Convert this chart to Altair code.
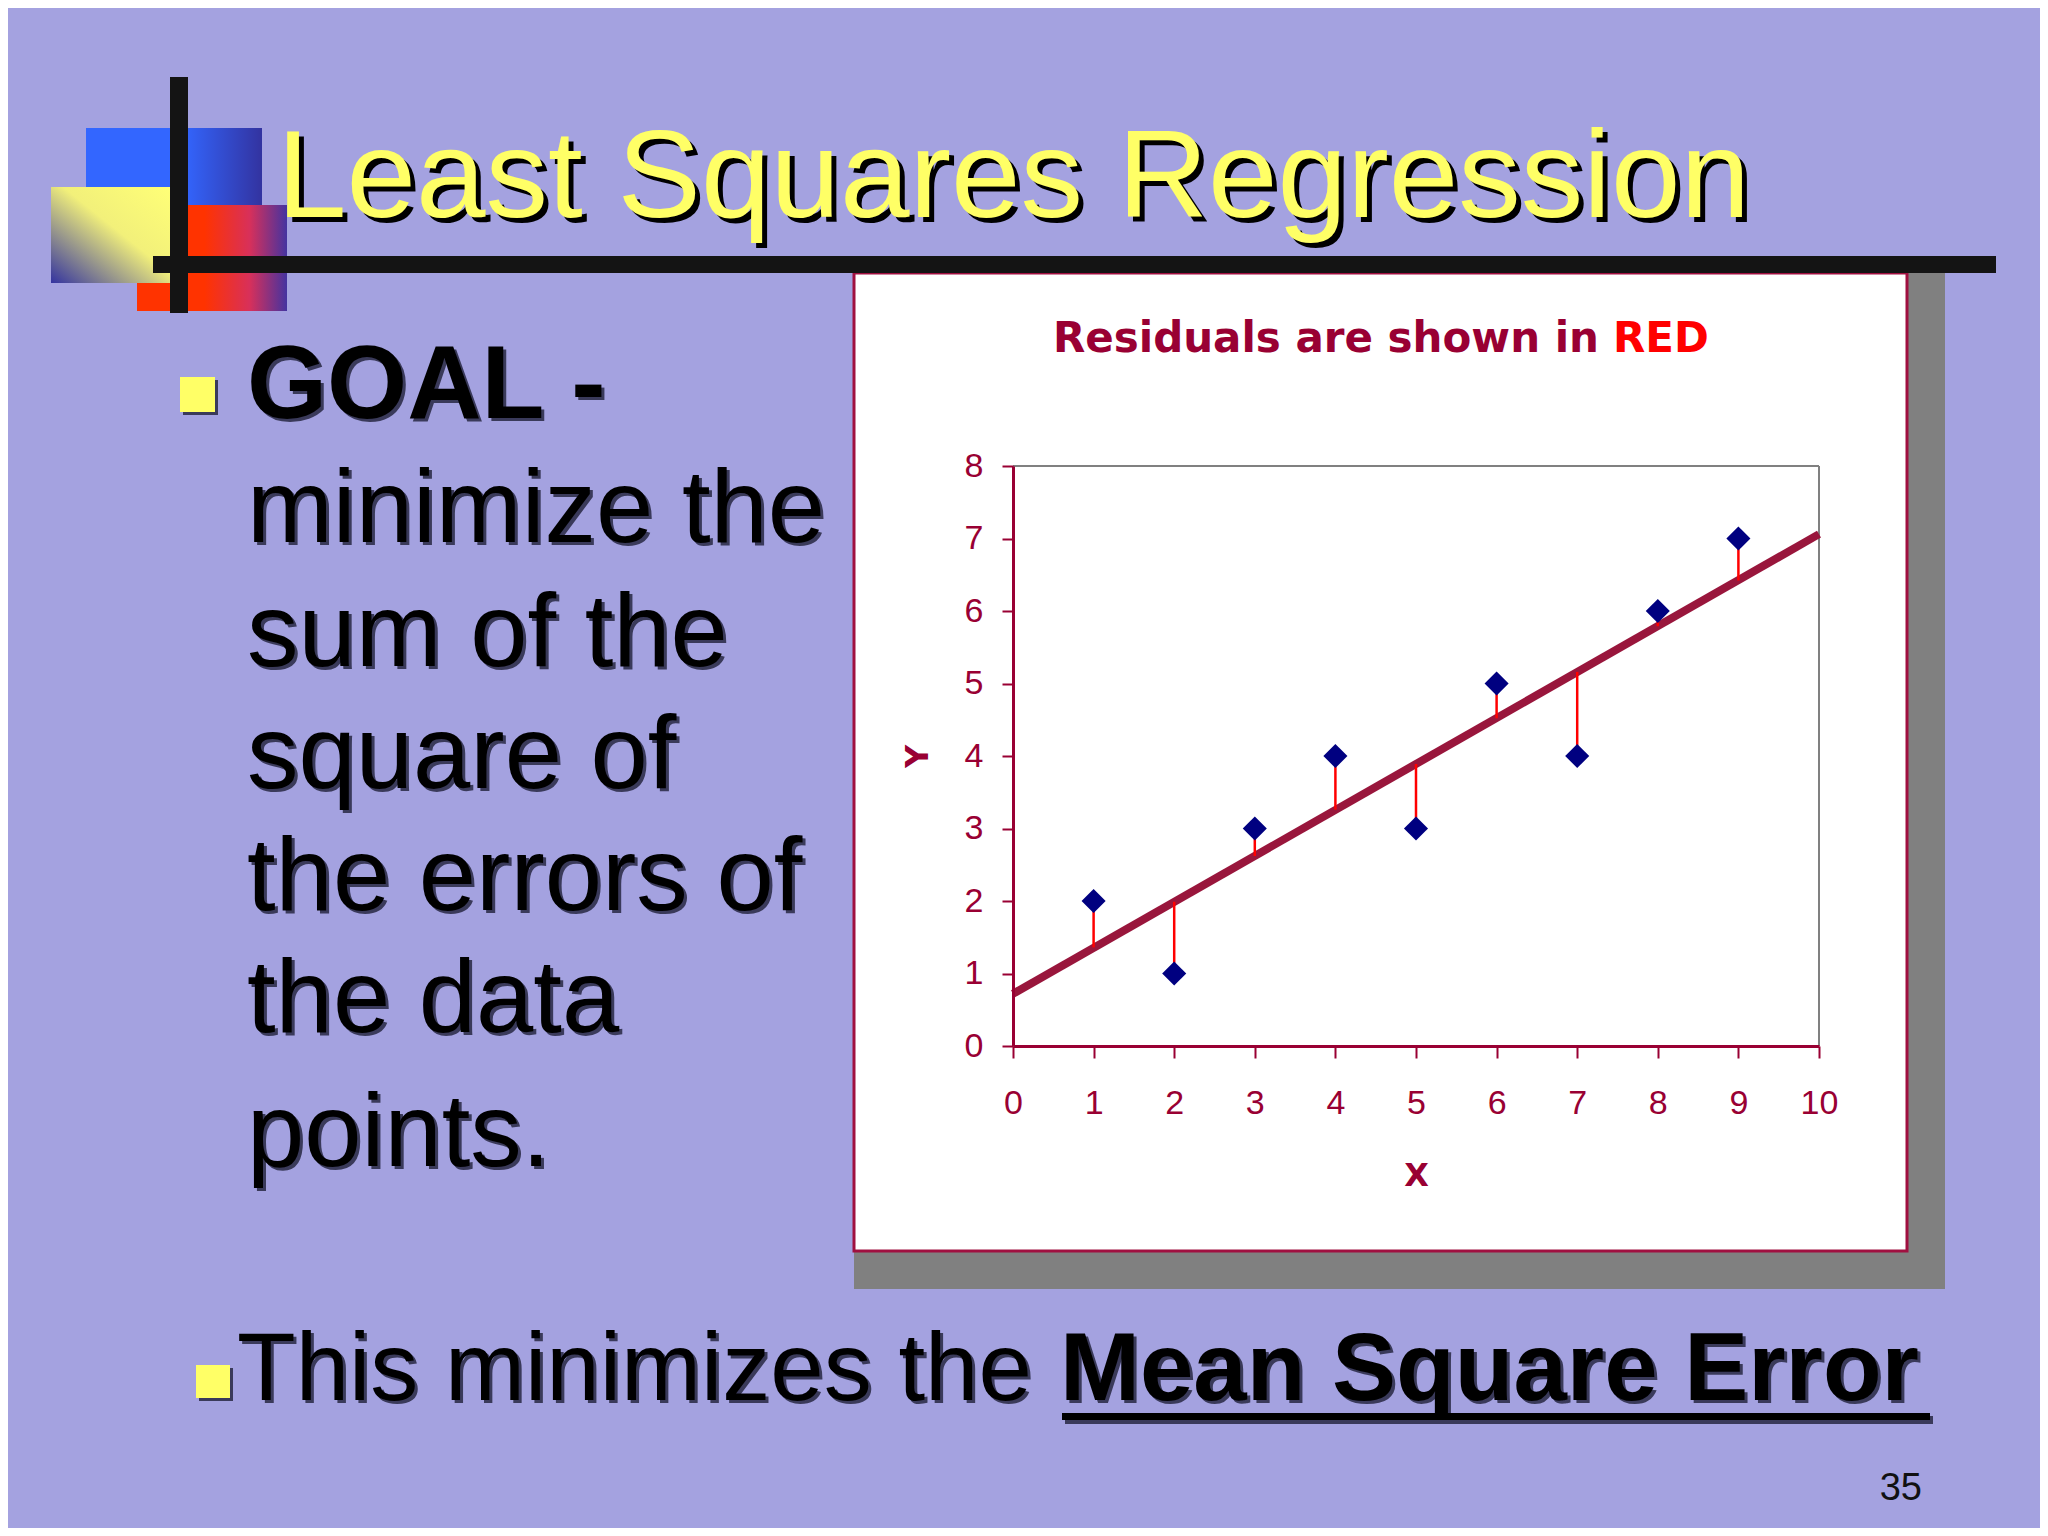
import altair as alt
import pandas as pd

# ---------------- data ----------------
x_vals = [1, 2, 3, 4, 5, 6, 7, 8, 9]
y_vals = [2, 1, 3, 4, 3, 5, 4, 6, 7]
fitted_vals = [1.36, 1.99, 2.62, 3.26, 3.89, 4.52, 5.16, 5.79, 6.42]
line_x = [0, 10]
line_y = [0.72, 7.06]
x_ticks = [0, 1, 2, 3, 4, 5, 6, 7, 8, 9, 10]
y_ticks = [0, 1, 2, 3, 4, 5, 6, 7, 8]

slide_title = "Least Squares Regression"
chart_title_a = "Residuals are shown in"
chart_title_b = "RED"
bullet_lines = ["GOAL -", "minimize the", "sum of the", "square of",
                "the errors of", "the data", "points."]
bottom_a = "This minimizes the"
bottom_b = "Mean Square Error"
page_no = "35"

pts = pd.DataFrame({"x": x_vals, "y": y_vals, "fit": fitted_vals})
line_df = pd.DataFrame({"x": line_x, "y": line_y})
one = alt.Data(values=[{"k": 0}])

# ---------------- geometry (slide pixel coords) ----------------
OX, OY = 1013, 466          # plot-area origin on slide
PW, PH = 806, 580           # plot-area size
TOTAL_W, TOTAL_H = 2032, 1520
BG = "#A4A2E0"
DARKRED = "#990033"

def R(x0, y0, x1, y1, **mk):
    return alt.Chart(one).mark_rect(**mk).encode(
        x=alt.value(x0 - OX), x2=alt.value(x1 - OX),
        y=alt.value(y0 - OY), y2=alt.value(y1 - OY))

def T(s, x, y, **mk):
    return alt.Chart(one).mark_text(text=s, baseline="alphabetic", **mk).encode(
        x=alt.value(x - OX), y=alt.value(y - OY))

def grad(stops, x1=0, y1=0, x2=1, y2=0):
    return alt.LinearGradient(
        gradient="linear", x1=x1, y1=y1, x2=x2, y2=y2,
        stops=[alt.GradientStop(color=c, offset=o) for o, c in stops])

layers = []
# chart frame + shadow
layers.append(R(854, 273, 1945, 1289, color="#808080"))
layers.append(R(854, 273, 1907, 1251, fill="white", stroke="#A01040", strokeWidth=3))

# logo
layers.append(R(86, 128, 262, 205, fill=grad([(0, "#3366FF"), (0.55, "#3366FF"), (1, "#3333A0")])))
layers.append(R(137, 205, 287, 311, fill=grad([(0, "#FF3300"), (0.45, "#FF3300"), (0.75, "#D8305A"), (1, "#4433A0")])))
layers.append(R(51, 187, 171, 283, fill=grad([(0, "#FFFF77"), (0.45, "#F2F07A"), (1, "#3333A0")], x1=1, y1=0, x2=0, y2=1)))
layers.append(R(170, 77, 188, 313, color="#141414"))
layers.append(R(153, 256, 1996, 273, color="#141414"))

# slide title with shadow
TF = "Liberation Sans, Arial, sans-serif"
layers.append(T(slide_title, 282, 222, font=TF, fontSize=125, color="#000000", align="left"))
layers.append(T(slide_title, 277, 217, font=TF, fontSize=125, color="#FFFF66", align="left"))

# left bullet block
baselines = [418, 542, 666, 788, 910, 1032, 1166]
layers.append(R(183, 380, 218, 415, color="#3A3A5A"))
layers.append(R(180, 377, 215, 412, color="#FFFF66"))
for i, (s, b) in enumerate(zip(bullet_lines, baselines)):
    w = "bold" if i == 0 else "normal"
    layers.append(T(s, 250, b + 3, font=TF, fontSize=103, fontWeight=w, color="#3A3A5A", align="left"))
    layers.append(T(s, 247, b, font=TF, fontSize=103, fontWeight=w, color="#000000", align="left"))

# bottom bullet line
layers.append(R(199, 1368, 233, 1401, color="#3A3A5A"))
layers.append(R(196, 1365, 230, 1398, color="#FFFF66"))
layers.append(T(bottom_a, 240, 1403, font=TF, fontSize=96, color="#3A3A5A", align="left"))
layers.append(T(bottom_a, 237, 1400, font=TF, fontSize=96, color="#000000", align="left"))
layers.append(T(bottom_b, 1063, 1403, font=TF, fontSize=96, fontWeight="bold", color="#3A3A5A", align="left"))
layers.append(T(bottom_b, 1060, 1400, font=TF, fontSize=96, fontWeight="bold", color="#000000", align="left"))
layers.append(R(1065, 1416, 1933, 1424, color="#3A3A5A"))
layers.append(R(1062, 1413, 1930, 1420, color="#000000"))
layers.append(T(page_no, 1922, 1500, font="Liberation Sans Narrow, Liberation Sans, sans-serif",
                fontSize=38, color="#111111", align="right"))

# chart title
CF = "DejaVu Sans, Verdana, sans-serif"
layers.append(T(chart_title_a, 1599, 352, font=CF, fontSize=42, fontWeight="bold", color=DARKRED, align="right"))
layers.append(T(chart_title_b, 1613, 352, font=CF, fontSize=42, fontWeight="bold", color="#FF0000", align="left"))

# ---------------- data layers ----------------
AF = "Liberation Sans Narrow, Liberation Sans, sans-serif"
xs = alt.Scale(domain=[0, 10], nice=False, zero=False)
ys = alt.Scale(domain=[0, 8], nice=False, zero=False)
xaxis = alt.Axis(values=x_ticks, format="d", grid=False, zindex=1, domainColor=DARKRED, domainWidth=3,
                 tickColor=DARKRED, tickWidth=2, tickSize=12, labelColor=DARKRED,
                 labelFont=AF, labelFontSize=34, labelPadding=28, labelFlush=False,
                 labelOverlap=False, title="X", titleFont=CF, titleFontSize=32,
                 titleFontWeight="bold", titleColor=DARKRED, titlePadding=40)
yaxis = alt.Axis(values=y_ticks, format="d", grid=False, zindex=1, domainColor=DARKRED, domainWidth=3,
                 tickColor=DARKRED, tickWidth=2, tickSize=11, labelColor=DARKRED,
                 labelFont=AF, labelFontSize=34, labelPadding=19, labelFlush=False,
                 labelOverlap=False, title="Y", titleFont=CF, titleFontSize=32,
                 titleFontWeight="bold", titleColor=DARKRED, titlePadding=30)

border_top = alt.Chart(one).mark_rule(color="#808080", strokeWidth=2).encode(
    x=alt.datum(0, scale=xs), x2=alt.datum(10), y=alt.datum(8, scale=ys))
border_right = alt.Chart(one).mark_rule(color="#808080", strokeWidth=2).encode(
    x=alt.datum(10, scale=xs), y=alt.datum(0, scale=ys), y2=alt.datum(8))

reg = alt.Chart(line_df).mark_line(color="#99163C", strokeWidth=8).encode(
    x=alt.X("x:Q", scale=xs, axis=xaxis), y=alt.Y("y:Q", scale=ys, axis=yaxis))
resid = alt.Chart(pts).mark_rule(color="#FF0000", strokeWidth=2.5).encode(
    x=alt.X("x:Q", scale=xs, axis=xaxis), y=alt.Y("y:Q", scale=ys, axis=yaxis), y2="fit:Q")
points = alt.Chart(pts).mark_point(shape="diamond", filled=True, size=580, color="#000080", opacity=1).encode(
    x=alt.X("x:Q", scale=xs, axis=xaxis), y=alt.Y("y:Q", scale=ys, axis=yaxis))

layers += [border_top, border_right, reg, resid, points]

chart = alt.layer(*layers).properties(
    width=PW, height=PH,
    autosize=alt.AutoSizeParams(type="none"),
    padding={"left": OX - 8, "top": OY - 8,
             "right": TOTAL_W - (OX - 8) - PW, "bottom": TOTAL_H - (OY - 8) - PH},
    background=BG,
).configure_view(stroke=None, fill=None)

chart.save("out.html", embed_options={"renderer": "svg", "actions": False})
